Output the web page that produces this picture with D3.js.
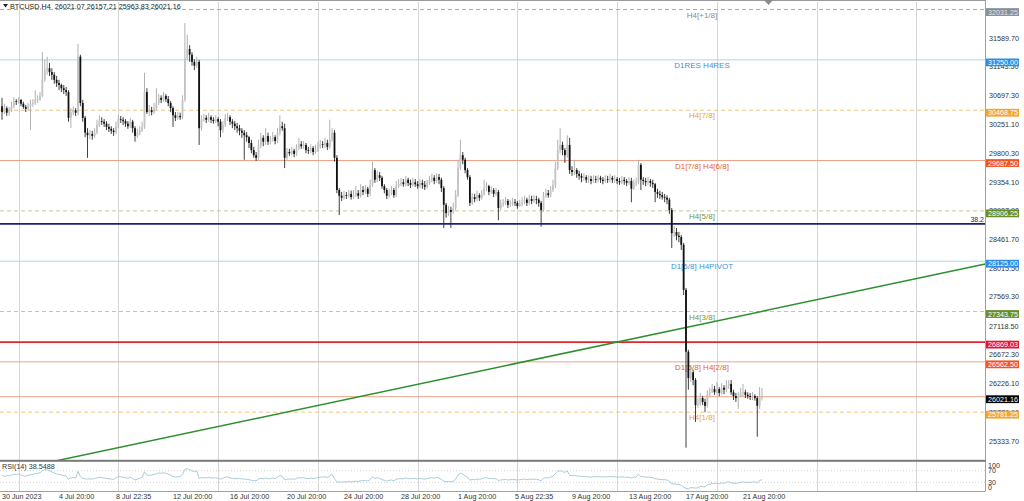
<!DOCTYPE html>
<html><head><meta charset="utf-8">
<script src="https://cdn.jsdelivr.net/npm/d3@7"></script>
<style>body{margin:0;background:#fff;}svg{display:block;font-family:"Liberation Sans",Arial,sans-serif;}</style>
</head><body><svg id="c" width="1024" height="501"></svg>
<script>
const chartTitle = "BTCUSD,H4  26021.07 26157.21 25963.83 26021.16";
const rsiTitle = "RSI(14) 38.5488";

const opens = [30530,
30440,30500,30430,30470,30530,30610,30600,30630,30570,30520,
30490,30530,30570,30580,30630,30640,30690,30940,31090,31120,
31060,31020,30940,30890,30860,30810,30780,30750,30350,30440,
30470,30430,31300,30580,30350,30120,30080,30100,30070,30120,
30240,30300,30290,30260,30210,30180,30150,30130,30220,30330,
30320,30300,30260,30220,30290,30190,30070,30120,30160,30210,
30750,30440,30470,30440,30500,30580,30660,30630,30690,30640,
30580,30500,30390,30350,30380,30360,30630,31280,31420,31330,
31220,31160,31220,30190,30330,30350,30320,30360,30320,30300,
30330,30290,30160,30240,30350,30360,30290,30260,30220,30190,
30150,30120,30080,30050,29960,29850,29770,29730,29930,30040,
29980,30070,29980,30010,30050,29990,30120,30220,30190,29730,
29820,29800,29840,29790,29880,29940,29910,29930,29850,29840,
29880,29820,29850,29910,29940,29930,29960,29900,30010,30120,
29730,29230,29140,29110,29150,29140,29170,29120,29150,29180,
29140,29230,29200,29250,29170,29310,29540,29390,29460,29420,
29290,29230,29140,29180,29230,29150,29290,29320,29350,29320,
29390,29340,29310,29350,29320,29290,29340,29310,29280,29340,
29390,29420,29370,29430,29390,29260,29000,28870,28920,28890,
28950,29150,29570,29770,29700,29540,29430,29030,29120,29090,
29150,29110,29170,29260,29290,29200,29230,29170,29200,28950,
29010,29030,29060,29000,29010,29040,29030,28980,29010,29040,
29080,29030,29090,29060,29090,29080,29030,28920,29140,29180,
29150,29230,29310,29570,29850,29930,29850,29770,29930,29540,
29510,29540,29480,29450,29420,29430,29390,29400,29370,29400,
29390,29420,29390,29370,29400,29390,29420,29390,29400,29370,
29350,29390,29370,29340,29370,29250,29340,29350,29620,29390,
29370,29350,29370,29340,29320,29200,29170,29150,29120,29110,
29080,28920,28560,28580,28520,28500,28380,27680,26720,26310,
26400,26280,25890,25910,26000,25940,25880,26050,26090,26140,
26090,26140,26080,26160,26130,26190,26220,26090,26030,26000,
26030,26080,26090,26050,26030,26020,26030,26000,25880,26021.07];

const highs = [
30660,30570,30530,30520,30600,30670,30640,30670,30640,30600,
30550,30580,30630,30640,30780,30700,30750,31370,31250,31300,
31200,31120,31060,31000,30940,30880,30860,30830,30780,30500,
30530,30500,31500,31330,30630,30380,30190,30160,30150,30190,
30320,30390,30360,30330,30300,30260,30220,30190,30290,30390,
30380,30360,30330,30300,30350,30320,30220,30180,30220,30290,
31050,30810,30550,30520,30580,30810,30720,30700,30750,30720,
30690,30610,30530,30440,30440,30430,30700,31820,31640,31480,
31370,31260,31300,31250,30390,30410,30390,30430,30390,30360,
30390,30360,30330,30300,30410,30430,30390,30330,30300,30270,
30240,30190,30160,30130,30070,30010,29900,29820,30010,30120,
30080,30190,30120,30070,30130,30080,30190,30390,30290,30260,
29880,29870,29900,29870,29940,30040,29990,29990,29960,29900,
29940,29910,29930,29980,30010,29990,30040,30010,30320,30190,
30160,29770,29260,29200,29220,29200,29230,29220,29230,29290,
29230,29320,29290,29310,29280,29390,29670,29570,29530,29510,
29450,29320,29260,29250,29290,29260,29370,29400,29420,29400,
29450,29420,29390,29420,29400,29370,29400,29390,29370,29390,
29450,29480,29460,29490,29480,29420,29290,29030,28980,28970,
29030,29230,29700,30010,29820,29730,29570,29460,29180,29170,
29220,29180,29230,29390,29350,29310,29290,29260,29260,29230,
29080,29090,29120,29090,29080,29110,29090,29060,29080,29120,
29140,29110,29150,29140,29150,29140,29110,29060,29200,29250,
29230,29290,29390,29670,30010,30190,29980,29880,30080,30040,
29600,29700,29570,29530,29490,29490,29460,29460,29450,29460,
29450,29460,29450,29430,29460,29450,29480,29450,29460,29430,
29420,29450,29430,29400,29430,29420,29390,29420,29700,29650,
29430,29420,29430,29400,29390,29340,29250,29220,29200,29170,
29150,29110,28950,28670,28640,28580,28530,28410,27710,26750,
26510,26440,26310,26000,26080,26030,25990,26120,26160,26220,
26190,26250,26170,26230,26200,26280,26280,26280,26130,26080,
26090,26160,26220,26130,26090,26080,26090,26060,26030,26170,
26157.21];

const lows = [
30320,30410,30380,30380,30440,30500,30550,30570,30530,30490,
30440,30460,30160,30520,30550,30580,30610,30670,30910,31020,
31000,30940,30880,30830,30780,30750,30720,30690,30290,30190,
30390,30380,30390,30530,30290,30050,29730,30020,30010,30040,
30100,30210,30240,30210,30160,30130,30100,30070,30100,30190,
30270,30240,30210,30180,30190,30120,29980,30040,30080,30130,
30180,30410,30380,30390,30410,30470,30550,30580,30600,30600,
30530,30440,30210,30300,30320,30320,30330,30600,31250,31220,
31160,31090,31120,29930,30150,30290,30270,30290,30270,30260,
30270,30220,30050,30120,30210,30300,30240,30190,30160,30120,
30080,30040,29700,29980,29880,29800,29730,29680,29700,29880,
29910,29930,29930,29940,29980,29940,29960,30080,30150,29570,
29700,29760,29770,29740,29760,29850,29870,29870,29800,29790,
29800,29770,29790,29820,29870,29880,29880,29850,29870,29980,
29670,29180,28840,29060,29080,29090,29110,29080,29090,29120,
29090,29110,29150,29170,29120,29140,29280,29340,29350,29370,
29250,29180,29090,29110,29150,29110,29120,29260,29290,29280,
29290,29290,29260,29280,29280,29250,29260,29250,29230,29250,
29310,29350,29320,29340,29320,29200,28640,28800,28830,28640,
28860,28920,29120,29540,29630,29490,29390,28980,29000,29040,
29060,29060,29080,29140,29210,29150,29170,29120,29140,28760,
28920,28970,29000,28950,28970,28980,28980,28940,28970,28980,
29010,28980,29000,29010,29030,29010,28970,28660,28890,29110,
29110,29120,29200,29260,29540,29800,29770,29650,29730,29480,
29450,29460,29420,29390,29350,29370,29340,29340,29320,29340,
29340,29350,29340,29320,29340,29340,29350,29340,29340,29320,
29310,29320,29310,29290,29310,29040,29230,29290,29320,29230,
29310,29290,29310,29280,29260,29040,29110,29090,29080,29040,
29010,28860,28330,28500,28450,28420,28300,27600,25230,26130,
26250,26200,25630,25850,25880,25890,25780,25850,26020,26080,
26050,26060,26030,26050,26060,26090,26140,26050,25970,25940,
25830,26020,26030,26000,25990,25970,25970,25960,25400,25830,
25963.83];

const closes = [
30440,30500,30430,30470,30530,30610,30600,30630,30570,30520,
30490,30530,30570,30580,30630,30640,30690,30940,31090,31120,
31060,31020,30940,30890,30860,30810,30780,30750,30350,30440,
30470,30430,31300,30580,30350,30120,30080,30100,30070,30120,
30240,30300,30290,30260,30210,30180,30150,30130,30220,30330,
30320,30300,30260,30220,30290,30190,30070,30120,30160,30210,
30750,30440,30470,30440,30500,30580,30660,30630,30690,30640,
30580,30500,30390,30350,30380,30360,30630,31280,31420,31330,
31220,31160,31220,30190,30330,30350,30320,30360,30320,30300,
30330,30290,30160,30240,30350,30360,30290,30260,30220,30190,
30150,30120,30080,30050,29960,29850,29770,29730,29930,30040,
29980,30070,29980,30010,30050,29990,30120,30220,30190,29730,
29820,29800,29840,29790,29880,29940,29910,29930,29850,29840,
29880,29820,29850,29910,29940,29930,29960,29900,30010,30120,
29730,29230,29140,29110,29150,29140,29170,29120,29150,29180,
29140,29230,29200,29250,29170,29310,29540,29390,29460,29420,
29290,29230,29140,29180,29230,29150,29290,29320,29350,29320,
29390,29340,29310,29350,29320,29290,29340,29310,29280,29340,
29390,29420,29370,29430,29390,29260,29000,28870,28920,28890,
28950,29150,29570,29770,29700,29540,29430,29030,29120,29090,
29150,29110,29170,29260,29290,29200,29230,29170,29200,28950,
29010,29030,29060,29000,29010,29040,29030,28980,29010,29040,
29080,29030,29090,29060,29090,29080,29030,28920,29140,29180,
29150,29230,29310,29570,29850,29930,29850,29770,29930,29540,
29510,29540,29480,29450,29420,29430,29390,29400,29370,29400,
29390,29420,29390,29370,29400,29390,29420,29390,29400,29370,
29350,29390,29370,29340,29370,29250,29340,29350,29620,29390,
29370,29350,29370,29340,29320,29200,29170,29150,29120,29110,
29080,28920,28560,28580,28520,28500,28380,27680,26720,26310,
26400,26280,25890,25910,26000,25940,25880,26050,26090,26140,
26090,26140,26080,26160,26130,26190,26220,26090,26030,26000,
26030,26080,26090,26050,26030,26020,26030,26000,25880,26021.07,
26021.16];

const rsiValues = [
54,50,53,52,55,58,57,59,55,52,51,54,56,57,60,61,63,70,74,73,
70,66,62,59,57,55,53,52,40,45,47,44,68,50,44,42,41,42,41,43,
45,47,46,45,43,42,41,40,45,50,49,48,46,44,48,43,38,41,44,47,
66,55,54,55,57,60,62,61,63,61,58,55,50,48,49,49,58,74,77,74,
70,67,69,43,46,46,45,47,45,45,46,44,41,44,48,48,45,44,43,42,
43,42,41,40,39,37,36,35,41,44,42,45,42,43,45,42,48,53,51,38,
41,41,42,40,43,46,45,46,43,43,45,42,44,47,48,48,49,46,52,57,
42,32,31,30,32,31,33,31,32,34,32,36,35,37,34,40,49,43,46,44,
39,37,34,36,38,35,41,42,43,42,45,43,42,44,43,41,43,42,41,43,
45,46,44,47,45,40,34,32,33,32,34,41,55,61,58,52,48,37,40,39,
41,40,42,45,46,43,44,42,43,36,38,39,40,38,39,40,39,38,39,40,
41,39,41,40,41,40,39,35,44,46,45,48,51,60,68,70,67,64,69,54,
53,54,52,51,50,50,49,49,48,49,49,50,49,48,49,49,50,49,49,48,
48,49,48,47,48,44,47,48,58,50,49,48,48,47,46,42,41,40,39,39,
38,33,24,25,23,23,20,13,9,8,12,11,10,11,16,15,14,22,24,26,
25,27,25,28,27,30,32,28,27,26,28,30,31,30,30,29,31,32,27,37,
38.5488];

const timeTickBars = [0,24,48,72,96,120,144,168,192,216,240,264,288,312];
const timeTickLabels = ["30 Jun 2023","4 Jul 20:00","8 Jul 22:35","12 Jul 20:00","16 Jul 20:00","20 Jul 20:00","24 Jul 20:00","28 Jul 20:00","1 Aug 20:00","5 Aug 22:35","9 Aug 20:00","13 Aug 20:00","17 Aug 20:00","21 Aug 20:00"];
const gridBars = [7,49,91,133,175,217,259,301,343,385];
const priceTicks = [31589.70,31143.50,30697.30,30251.10,29800.30,29354.10,28907.90,28461.70,28015.50,27569.30,27118.50,26672.30,26226.10,25779.90,25333.70];
const rsiTicks = [100,70,30,0];
const rsiLevels = [70,30];

const levelPrices = [32031.25,31250.00,30468.75,29687.50,28906.25,28125.00,27343.75,26869.03,26562.50,26021.16,25781.25];
const levelNames = ["H4[+1/8]","D1RES H4RES","H4[7/8]","D1[7/8] H4[6/8]","H4[5/8]","D1[6/8] H4PIVOT","H4[3/8]","","D1[5/8] H4[2/8]","","H4[1/8]"];
const levelKinds = ["gray","blue","orange","salmon","olive","blue","olive","red","salmon","bid","orange"];
const fiboPrice = 28705;
const fiboLabel = "38.2";
const trendBars = [22, 414];
const trendPrices = [25020, 28080];

const kindStyle = {
  gray:  {line:"#a9a9a9", dash:"4,3", w:1,   box:"#878c95", boxText:"#e6e8eb", label:"#8a8a8a"},
  blue:  {line:"#aed6f1", dash:null,  w:1,   box:"#2f8be3", boxText:"#ffffff", label:"#3f90dc"},
  orange:{line:"#f3c47e", dash:"4,3", w:1,   box:"#f5a623", boxText:"#ffffff", label:"#eba331"},
  salmon:{line:"#eda386", dash:null,  w:1,   box:"#f2561d", boxText:"#ffffff", label:"#e8632e"},
  olive: {line:"#c9c59a", dash:"4,3", w:1,   box:"#6b8e23", boxText:"#ffffff", label:"#77953a"},
  red:   {line:"#e0262d", dash:null,  w:1.6, box:"#e5162a", boxText:"#ffffff", label:"#e0262d"},
  bid:   {line:"#eda386", dash:null,  w:1,   box:"#000000", boxText:"#ffffff", label:"#000"}
};

const svg = d3.select("#c");
const W = 1024, AX = 985.5, TOP = 2, MAINB = 460, RT = 462, RB = 491;
const x = d3.scaleLinear().domain([0, 320]).range([2, 762]);
const y = d3.scaleLinear().domain([25333.7, 31589.7]).range([441, 38]);
const yR = d3.scaleLinear().domain([0, 100]).range([RB, RT]);

svg.append("rect").attr("width", W).attr("height", 501).attr("fill", "#fff");
const defs = svg.append("defs");
defs.append("clipPath").attr("id","mainClip").append("rect").attr("x",0).attr("y",TOP).attr("width",AX).attr("height",MAINB-TOP);
defs.append("clipPath").attr("id","rsiClip").append("rect").attr("x",0).attr("y",RT).attr("width",AX).attr("height",RB-RT);

// grid
svg.append("g").selectAll("line").data(gridBars).join("line")
  .attr("x1", d => Math.round(x(d)) + 0.5).attr("x2", d => Math.round(x(d)) + 0.5)
  .attr("y1", TOP).attr("y2", RB).attr("stroke", "#d6d6d6").attr("stroke-width", 1);

// top border
svg.append("line").attr("x1",0).attr("x2",AX).attr("y1",0.5).attr("y2",0.5).attr("stroke","#9a9a9a");

const main = svg.append("g").attr("clip-path","url(#mainClip)");

// level lines
const levels = levelPrices.map((p,i)=>({p, name:levelNames[i], s:kindStyle[levelKinds[i]]}));
main.append("g").selectAll("line").data(levels).join("line")
  .attr("x1",0).attr("x2",AX).attr("y1",d=>y(d.p)).attr("y2",d=>y(d.p))
  .attr("stroke",d=>d.s.line).attr("stroke-width",d=>d.s.w)
  .attr("stroke-dasharray",d=>d.s.dash);

// level names
main.append("g").selectAll("text").data(levels.filter(d=>d.name)).join("text")
  .attr("x",702).attr("y",d=>y(d.p)+8).attr("text-anchor","middle")
  .attr("font-size",8).attr("fill",d=>d.s.label).text(d=>d.name);

// fibo line
main.append("line").attr("x1",0).attr("x2",AX).attr("y1",y(fiboPrice)).attr("y2",y(fiboPrice))
  .attr("stroke","#1f1f7a").attr("stroke-width",1.6);
svg.append("text").attr("x",984).attr("y",y(fiboPrice)-2).attr("text-anchor","end")
  .attr("font-size",7).attr("fill","#1f1f7a").text(fiboLabel);

// trend line
const tl = d3.line().x(d=>x(d[0])).y(d=>y(d[1]));
main.append("path").datum(trendBars.map((b,i)=>[b,trendPrices[i]]))
  .attr("d",tl).attr("stroke","#2f8f2f").attr("stroke-width",1.5).attr("fill","none");

// candles
const bars = closes.map((c,i)=>({i, o:opens[i], h:highs[i], l:lows[i], c}));
const cg = main.append("g");
cg.selectAll("line").data(bars).join("line")
  .attr("x1",d=>x(d.i)).attr("x2",d=>x(d.i)).attr("y1",d=>y(d.h)).attr("y2",d=>y(d.l))
  .attr("stroke",d=>d.c>=d.o?"#a8a8a8":"#2a2a2a").attr("stroke-width",0.9);
cg.selectAll("rect").data(bars).join("rect")
  .attr("x",d=>x(d.i)-0.9).attr("width",1.8)
  .attr("y",d=>y(Math.max(d.o,d.c)))
  .attr("height",d=>Math.max(0.8, Math.abs(y(d.o)-y(d.c))))
  .attr("fill",d=>d.c>=d.o?"#c4c4c4":"#111");

// chart shift marker
svg.append("path").attr("d","M764,0 L773,0 L768.5,5 Z").attr("fill","#8a8a8a");

// title
svg.append("path").attr("d","M3,4 L8,4 L5.5,7.5 Z").attr("fill","#222");
svg.append("text").attr("x",10).attr("y",9).attr("font-size",7.2).attr("fill","#222")
  .attr("xml:space","preserve").style("white-space","pre").text(chartTitle);

// right axis
svg.append("line").attr("x1",AX).attr("x2",AX).attr("y1",0).attr("y2",RB).attr("stroke","#a0a0a0");
svg.append("g").selectAll("text").data(priceTicks).join("text")
  .attr("x",989).attr("y",d=>y(d)+2.5).attr("font-size",7.2).attr("fill","#333")
  .text(d=>d.toFixed(2));

// level boxes
const lb = svg.append("g").selectAll("g").data(levels).join("g");
lb.append("rect").attr("x",986).attr("y",d=>y(d.p)-1.4).attr("width",33).attr("height",7.8)
  .attr("fill",d=>d.s.box);
lb.append("text").attr("x",988).attr("y",d=>y(d.p)+5.1).attr("font-size",7.2)
  .attr("fill",d=>d.s.boxText).text(d=>d.p.toFixed(2));

// RSI panel
svg.append("rect").attr("x",0).attr("y",459.8).attr("width",AX).attr("height",2).attr("fill","#7a7a7a");
svg.append("line").attr("x1",0).attr("x2",AX).attr("y1",RB+0.5).attr("y2",RB+0.5).attr("stroke","#a0a0a0");
svg.append("g").selectAll("line").data(rsiLevels).join("line")
  .attr("x1",0).attr("x2",AX).attr("y1",d=>yR(d)).attr("y2",d=>yR(d))
  .attr("stroke","#d4d4d4").attr("stroke-dasharray","1,2");
const rl = d3.line().x((d,i)=>x(i)).y(d=>yR(d));
svg.append("g").attr("clip-path","url(#rsiClip)").append("path").datum(rsiValues)
  .attr("d",rl).attr("fill","none").attr("stroke","#a9cbd9").attr("stroke-width",1);
svg.append("text").attr("x",2).attr("y",468.5).attr("font-size",7.2).attr("fill","#333").text(rsiTitle);
const rsiLabelOffset = {100:6, 70:2.5, 30:2.5, 0:-1.5};
svg.append("g").selectAll("text").data(rsiTicks).join("text")
  .attr("x",988).attr("y",d=>yR(d)+rsiLabelOffset[d]).attr("font-size",7.2).attr("fill","#333").text(d=>d);

// time axis
svg.append("g").selectAll("text").data(timeTickBars).join("text")
  .attr("x",(d)=>x(d)).attr("y",499).attr("font-size",7.2).attr("fill","#333")
  .text((d,i)=>timeTickLabels[i]);
</script></body></html>
